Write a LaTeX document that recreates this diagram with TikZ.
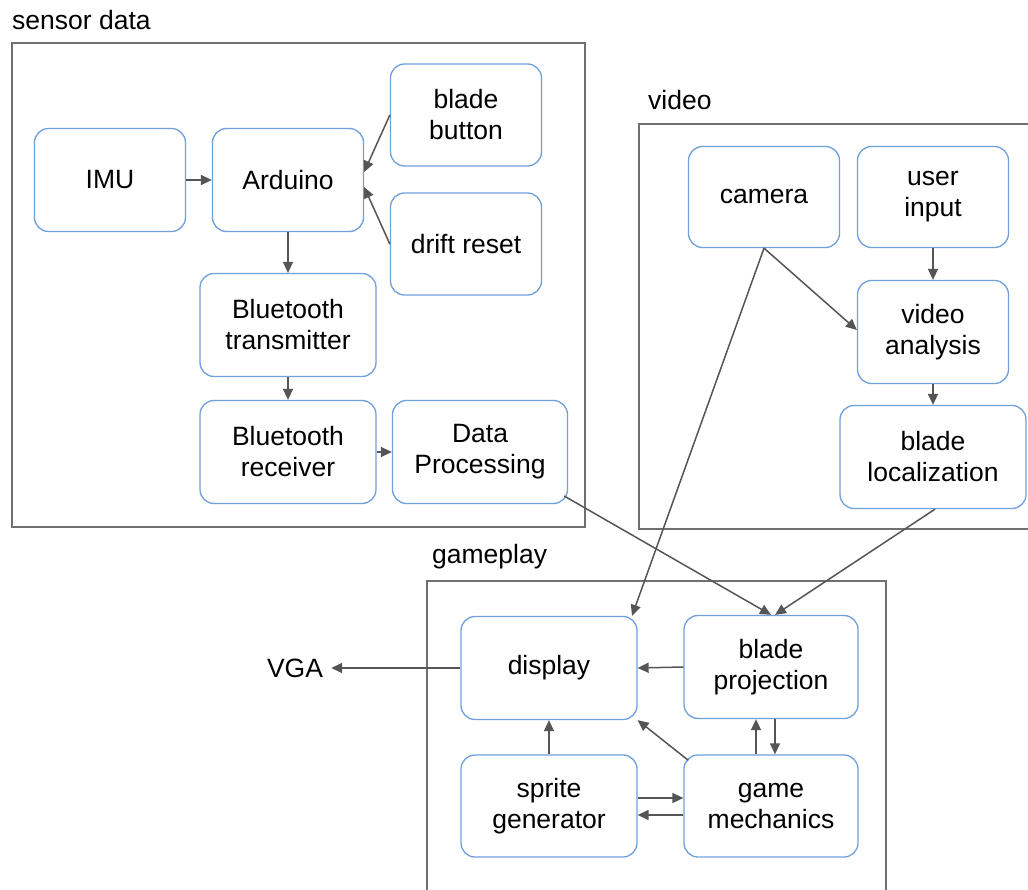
\documentclass[tikz,border=0pt]{standalone}
\usepackage{fontspec}
\setmainfont{Liberation Sans}
\usetikzlibrary{arrows.meta}
\definecolor{boxblue}{HTML}{6FA0DC}
\definecolor{grpgray}{HTML}{707070}
\definecolor{arrgray}{HTML}{555555}
\tikzset{
  blk/.style={draw=boxblue, line width=1.3pt, rounded corners=14pt, fill=white,
    align=center, inner sep=0pt, font=\fontsize{26.5}{31}\selectfont},
  grp/.style={draw=grpgray, line width=1.4pt},
  grplabel/.style={anchor=west, inner sep=0pt, font=\fontsize{26.5}{31}\selectfont},
  conn/.style={draw=arrgray, line width=1.5pt, -{Triangle[length=11pt,width=10pt]}}
}
\begin{document}
\begin{tikzpicture}[x=1pt,y=-1pt]
\useasboundingbox (0,0) rectangle (1028,890);
% groups
\draw[grp] (12,43) rectangle (585,527);
\node[grplabel] (lsensor) at (12,20) {sensor data};
\draw[grp] (639,124) rectangle (1040,529);
\node[grplabel] (lvideo) at (648,100) {video};
\draw[grp] (427,581) rectangle (886,900);
\node[grplabel] (lgame) at (432,557) {gameplay};
% sensor nodes
\node[blk, minimum width=151pt, minimum height=103pt] (imu) at (110,180) {IMU};
\node[blk, minimum width=151pt, minimum height=103pt] (ard) at (288,180) {Arduino};
\node[blk, minimum width=151pt, minimum height=102pt] (bb) at (466,115) {blade\\button};
\node[blk, minimum width=151pt, minimum height=102pt] (dr) at (466,244) {drift reset};
\node[blk, minimum width=176pt, minimum height=103pt] (btt) at (288,325) {Bluetooth\\transmitter};
\node[blk, minimum width=176pt, minimum height=103pt] (btr) at (288,452) {Bluetooth\\receiver};
\node[blk, minimum width=175pt, minimum height=103pt] (dp) at (480,452) {Data\\Processing};
% video nodes
\node[blk, minimum width=151pt, minimum height=101pt] (cam) at (764,197) {camera};
\node[blk, minimum width=151pt, minimum height=101pt] (ui) at (933,197) {user\\input};
\node[blk, minimum width=151pt, minimum height=103pt] (va) at (933,332) {video\\analysis};
\node[blk, minimum width=186pt, minimum height=103pt] (bl) at (933,457) {blade\\localization};
% gameplay nodes
\node[blk, minimum width=176pt, minimum height=103pt] (disp) at (549,668) {display};
\node[blk, minimum width=174pt, minimum height=103pt] (bp) at (771,667) {blade\\projection};
\node[blk, minimum width=176pt, minimum height=102pt] (sg) at (549,806) {sprite\\generator};
\node[blk, minimum width=174pt, minimum height=102pt] (gm) at (771,806) {game\\mechanics};
\node[inner sep=0pt, font=\fontsize{26.5}{31}\selectfont] (vga) at (295,668) {VGA};
% connectors
\draw[conn] (imu.east) -- (ard.west);
\draw[conn] (bb.west) -- ([yshift=8pt]ard.east);
\draw[conn] (dr.west) -- ([yshift=-7pt]ard.east);
\draw[conn] (ard.south) -- (btt.north);
\draw[conn] (btt.south) -- (btr.north);
\draw[conn] (btr.east) -- (dp.west);
\draw[conn] ([shift={(-4pt,-44pt)}]dp.east) -- (bp.north);
\draw[conn] (cam.south) -- ([xshift=83pt]disp.north);
\draw[conn] (cam.south) -- ([yshift=2pt]va.west);
\draw[conn] (ui.south) -- (va.north);
\draw[conn] (va.south) -- (bl.north);
\draw[conn] ([xshift=2pt]bl.south) -- ([xshift=4pt]bp.north);
\draw[conn] (bp.west) -- (disp.east);
\draw[conn, shorten >=8pt] (disp.west) -- (vga.east);
\draw[conn] (sg.north) -- (disp.south);
\draw[conn] ([shift={(5pt,-6pt)}]gm.north west) -- (disp.south east);
\draw[conn] ([xshift=-15pt]gm.north) -- ([xshift=-15pt]bp.south);
\draw[conn] ([xshift=4pt]bp.south) -- ([xshift=4pt]gm.north);
\draw[conn] ([yshift=8pt]sg.east) -- ([yshift=8pt]gm.west);
\draw[conn] ([yshift=-9pt]gm.west) -- ([yshift=-9pt]sg.east);
\end{tikzpicture}
\end{document}
